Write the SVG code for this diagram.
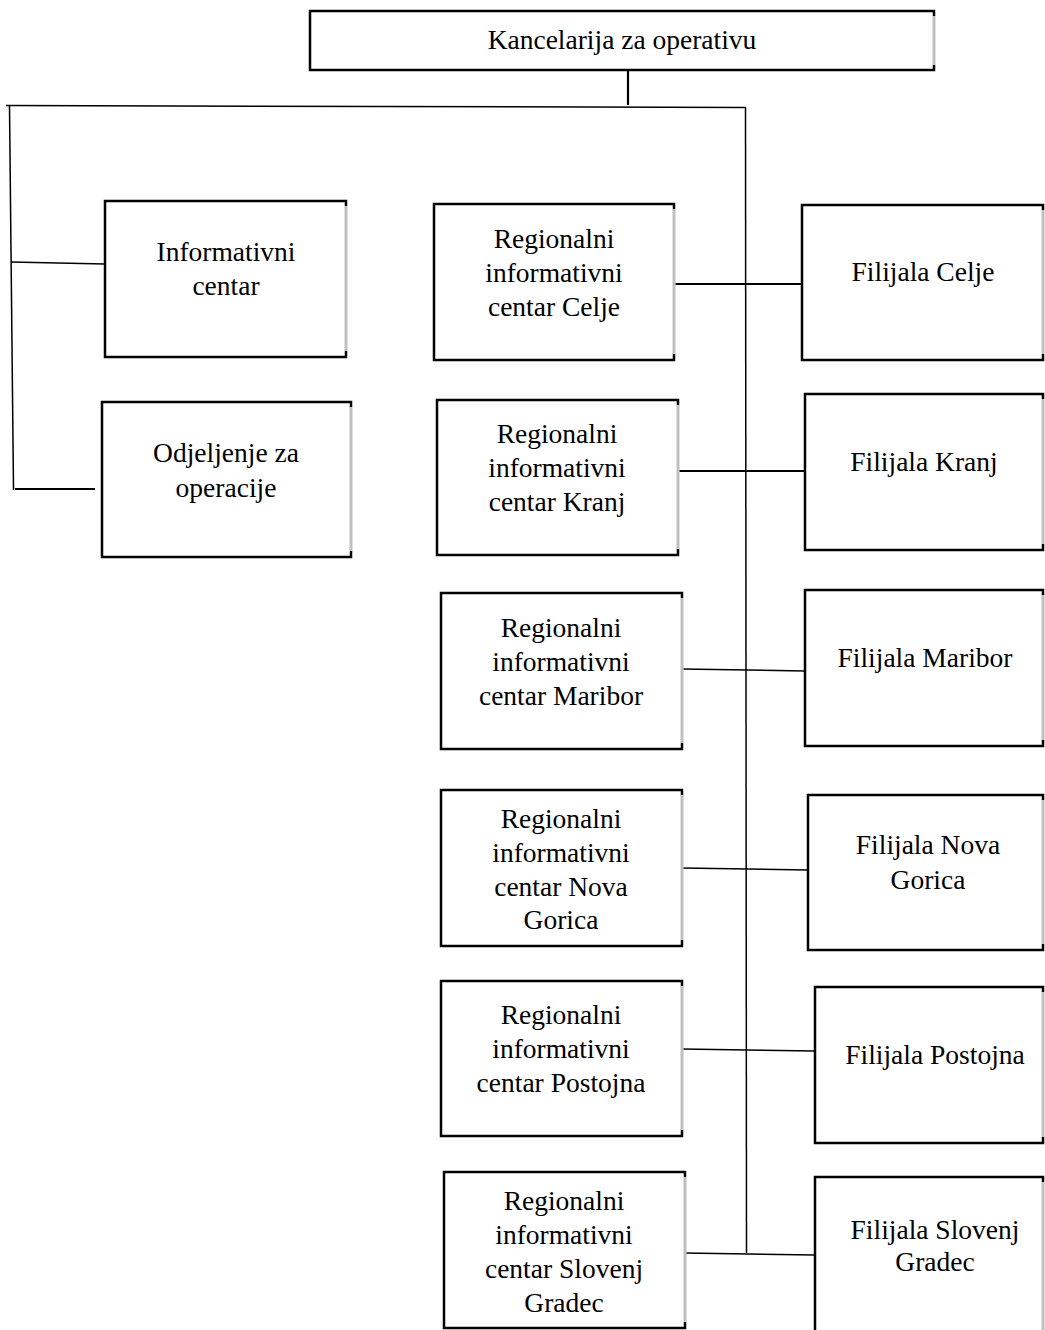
<svg xmlns="http://www.w3.org/2000/svg" width="1045" height="1330" viewBox="0 0 1045 1330">
  <style>
    .box { fill: #ffffff; stroke: #000000; stroke-width: 2.5; }
    .edge { stroke: #ffffff; stroke-width: 3; }
    .edge-line { stroke: #808080; stroke-width: 1; }
    .lbl { font-family: "Liberation Serif", "Times New Roman", serif; font-size: 27.5px; fill: #000000; text-anchor: middle; }
    .conn { fill: none; stroke: #000000; stroke-width: 1.5; }
    .conn-bold { fill: none; stroke: #000000; stroke-width: 2.2; }
  </style>

  <!-- connectors -->
  <g id="connectors">
    <line class="conn-bold" x1="628" y1="70" x2="628" y2="105"/>
    <line class="conn" x1="6" y1="105.5" x2="746" y2="107.5"/>
    <line class="conn" x1="9.5" y1="106" x2="13.5" y2="490"/>
    <line class="conn" x1="745.5" y1="107.5" x2="746.5" y2="1253"/>
    <line class="conn" x1="11" y1="262" x2="105" y2="264"/>
    <line class="conn-bold" x1="15" y1="489" x2="95" y2="489"/>
    <line class="conn-bold" x1="674" y1="284" x2="802" y2="284"/>
    <line class="conn-bold" x1="678" y1="471" x2="805" y2="471"/>
    <line class="conn" x1="682" y1="669" x2="805" y2="671"/>
    <line class="conn" x1="682" y1="868" x2="808" y2="870"/>
    <line class="conn" x1="682" y1="1049" x2="815" y2="1051"/>
    <line class="conn" x1="685" y1="1253" x2="815" y2="1255"/>
  </g>

  <!-- top office -->
  <g id="kancelarija">
    <rect class="box" x="310" y="11" width="624" height="59"/>
    <line class="edge" x1="934" y1="16" x2="934" y2="65"/>
    <line class="edge-line" x1="934" y1="16" x2="934" y2="65"/>
    <text class="lbl" x="622" y="49">Kancelarija za operativu</text>
  </g>

  <!-- left column -->
  <g id="informativni-centar">
    <rect class="box" x="105" y="201" width="241" height="156"/>
    <line class="edge" x1="346" y1="206" x2="346" y2="351"/>
    <line class="edge-line" x1="346" y1="206" x2="346" y2="351"/>
    <text class="lbl" x="226" y="261">Informativni</text>
    <text class="lbl" x="226" y="295">centar</text>
  </g>

  <g id="odjeljenje-za-operacije">
    <rect class="box" x="102" y="402" width="249" height="155"/>
    <line class="edge" x1="351" y1="407" x2="351" y2="551"/>
    <line class="edge-line" x1="351" y1="407" x2="351" y2="551"/>
    <text class="lbl" x="226" y="462">Odjeljenje za</text>
    <text class="lbl" x="226" y="497">operacije</text>
  </g>

  <!-- regional information centres -->
  <g id="ric-celje">
    <rect class="box" x="434" y="204" width="240" height="156"/>
    <line class="edge" x1="674" y1="209" x2="674" y2="354"/>
    <line class="edge-line" x1="674" y1="209" x2="674" y2="354"/>
    <text class="lbl" x="554" y="248">Regionalni</text>
    <text class="lbl" x="554" y="282">informativni</text>
    <text class="lbl" x="554" y="316">centar Celje</text>
  </g>

  <g id="ric-kranj">
    <rect class="box" x="437" y="400" width="241" height="155"/>
    <line class="edge" x1="678" y1="405" x2="678" y2="549"/>
    <line class="edge-line" x1="678" y1="405" x2="678" y2="549"/>
    <text class="lbl" x="557" y="443">Regionalni</text>
    <text class="lbl" x="557" y="477">informativni</text>
    <text class="lbl" x="557" y="511">centar Kranj</text>
  </g>

  <g id="ric-maribor">
    <rect class="box" x="441" y="593" width="241" height="156"/>
    <line class="edge" x1="682" y1="598" x2="682" y2="743"/>
    <line class="edge-line" x1="682" y1="598" x2="682" y2="743"/>
    <text class="lbl" x="561" y="637">Regionalni</text>
    <text class="lbl" x="561" y="671">informativni</text>
    <text class="lbl" x="561" y="705">centar Maribor</text>
  </g>

  <g id="ric-nova-gorica">
    <rect class="box" x="441" y="790" width="241" height="156"/>
    <line class="edge" x1="682" y1="795" x2="682" y2="940"/>
    <line class="edge-line" x1="682" y1="795" x2="682" y2="940"/>
    <text class="lbl" x="561" y="828">Regionalni</text>
    <text class="lbl" x="561" y="862">informativni</text>
    <text class="lbl" x="561" y="896">centar Nova</text>
    <text class="lbl" x="561" y="929">Gorica</text>
  </g>

  <g id="ric-postojna">
    <rect class="box" x="441" y="981" width="241" height="155"/>
    <line class="edge" x1="682" y1="986" x2="682" y2="1130"/>
    <line class="edge-line" x1="682" y1="986" x2="682" y2="1130"/>
    <text class="lbl" x="561" y="1024">Regionalni</text>
    <text class="lbl" x="561" y="1058">informativni</text>
    <text class="lbl" x="561" y="1092">centar Postojna</text>
  </g>

  <g id="ric-slovenj-gradec">
    <rect class="box" x="444" y="1172" width="241" height="156"/>
    <line class="edge" x1="685" y1="1177" x2="685" y2="1322"/>
    <line class="edge-line" x1="685" y1="1177" x2="685" y2="1322"/>
    <text class="lbl" x="564" y="1210">Regionalni</text>
    <text class="lbl" x="564" y="1244">informativni</text>
    <text class="lbl" x="564" y="1278">centar Slovenj</text>
    <text class="lbl" x="564" y="1312">Gradec</text>
  </g>

  <!-- branch offices -->
  <g id="filijala-celje">
    <rect class="box" x="802" y="205" width="241" height="155"/>
    <line class="edge" x1="1043" y1="210" x2="1043" y2="354"/>
    <line class="edge-line" x1="1043" y1="210" x2="1043" y2="354"/>
    <text class="lbl" x="923" y="281">Filijala Celje</text>
  </g>

  <g id="filijala-kranj">
    <rect class="box" x="805" y="394" width="238" height="156"/>
    <line class="edge" x1="1043" y1="399" x2="1043" y2="544"/>
    <line class="edge-line" x1="1043" y1="399" x2="1043" y2="544"/>
    <text class="lbl" x="924" y="471">Filijala Kranj</text>
  </g>

  <g id="filijala-maribor">
    <rect class="box" x="805" y="590" width="238" height="156"/>
    <line class="edge" x1="1043" y1="595" x2="1043" y2="740"/>
    <line class="edge-line" x1="1043" y1="595" x2="1043" y2="740"/>
    <text class="lbl" x="925" y="667">Filijala Maribor</text>
  </g>

  <g id="filijala-nova-gorica">
    <rect class="box" x="808" y="795" width="235" height="155"/>
    <line class="edge" x1="1043" y1="800" x2="1043" y2="944"/>
    <line class="edge-line" x1="1043" y1="800" x2="1043" y2="944"/>
    <text class="lbl" x="928" y="854">Filijala Nova</text>
    <text class="lbl" x="928" y="889">Gorica</text>
  </g>

  <g id="filijala-postojna">
    <rect class="box" x="815" y="987" width="228" height="156"/>
    <line class="edge" x1="1043" y1="992" x2="1043" y2="1137"/>
    <line class="edge-line" x1="1043" y1="992" x2="1043" y2="1137"/>
    <text class="lbl" x="935" y="1064">Filijala Postojna</text>
  </g>

  <g id="filijala-slovenj-gradec">
    <rect class="box" x="815" y="1177" width="228" height="160"/>
    <line class="edge" x1="1043" y1="1182" x2="1043" y2="1330"/>
    <line class="edge-line" x1="1043" y1="1182" x2="1043" y2="1330"/>
    <text class="lbl" x="935" y="1239">Filijala Slovenj</text>
    <text class="lbl" x="935" y="1271">Gradec</text>
  </g>
</svg>
